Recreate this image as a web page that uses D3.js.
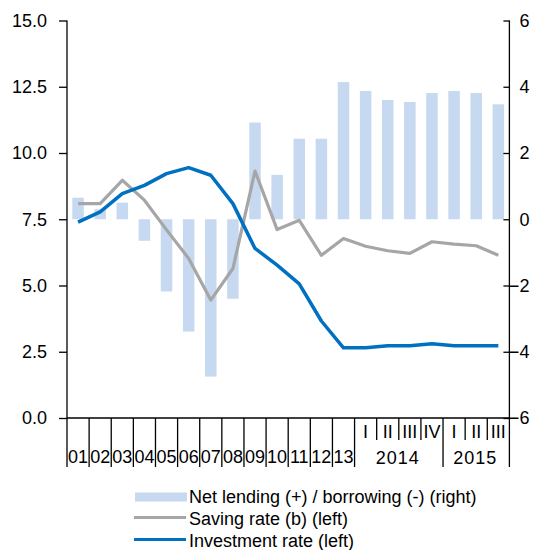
<!DOCTYPE html>
<html><head><meta charset="utf-8">
<script src="https://cdn.jsdelivr.net/npm/d3@7"></script>
<style>body{margin:0;background:#fff}svg{display:block}text{font-family:"Liberation Sans",Arial,sans-serif;fill:#000}</style>
</head><body><svg id="c" width="533" height="550"></svg>
<script>
const categories = ["01","02","03","04","05","06","07","08","09","10","11","12","13","I","II","III","IV","I","II","III"];
const yearGroups = [{label:"2014", start:13, end:17},{label:"2015", start:17, end:20}];
const netLending = [0.65,0.30,0.50,-0.65,-2.18,-3.39,-4.75,-2.40,2.92,1.34,2.43,2.43,4.14,3.87,3.60,3.54,3.81,3.87,3.81,3.47];
const savingRate = [8.09,8.09,8.97,8.22,7.10,6.02,4.45,5.64,9.32,7.11,7.46,6.14,6.77,6.48,6.31,6.21,6.65,6.56,6.50,6.14];
const investmentRate = [7.39,7.78,8.47,8.78,9.22,9.45,9.16,8.09,6.40,5.77,5.06,3.66,2.65,2.65,2.73,2.73,2.80,2.73,2.73,2.73];
const leftTicks = [0,2.5,5,7.5,10,12.5,15];
const rightTicks = [-6,-4,-2,0,2,4,6];
const legendLabels = ["Net lending (+) / borrowing (-) (right)","Saving rate (b) (left)","Investment rate (left)"];

const colBar="#C6D9F1", colSave="#A6A6A6", colInv="#0070C0";
const L=67, R=509.4, T=20.5, B=418;
const svg=d3.select("#c");
const x=d3.scaleBand().domain(d3.range(categories.length)).range([L,R]).paddingInner(0.48).paddingOuter(0.24);
const yL=d3.scaleLinear().domain([0,15]).range([B,T]);
const yR=d3.scaleLinear().domain([-6,6]).range([B,T]);
const step=x.step();
const cx=i=>x(i)+x.bandwidth()/2;

// bars
svg.append("g").selectAll("rect").data(netLending).join("rect")
  .attr("x",(d,i)=>x(i)).attr("width",x.bandwidth())
  .attr("y",d=>yR(Math.max(0,d))).attr("height",d=>Math.abs(yR(d)-yR(0)))
  .attr("fill",colBar);

// lines
const lineL=d3.line().x((d,i)=>cx(i)).y(d=>yL(d));
svg.append("path").datum(savingRate).attr("d",lineL).attr("fill","none").attr("stroke",colSave).attr("stroke-width",3.2).attr("stroke-linejoin","round");
svg.append("path").datum(investmentRate).attr("d",lineL).attr("fill","none").attr("stroke",colInv).attr("stroke-width",3.5).attr("stroke-linejoin","round");

// left axis
const gl=svg.append("g").attr("transform",`translate(${L},0)`).call(d3.axisLeft(yL).tickValues(leftTicks).tickFormat(d3.format(".1f")).tickSizeOuter(0).tickSize(8).tickPadding(12));
gl.select(".domain").remove();
gl.selectAll("line").attr("stroke","#000").attr("stroke-width",1.3);
gl.selectAll("text").attr("font-size",18).attr("font-family","Liberation Sans, Arial, sans-serif");
// right axis
const gr=svg.append("g").attr("transform",`translate(${R},0)`).call(d3.axisRight(yR).tickValues(rightTicks).tickSize(-6).tickSizeOuter(0).tickPadding(0));
gr.select(".domain").remove();
gr.selectAll("line").attr("stroke","#000").attr("stroke-width",1.3);
gr.selectAll("text").attr("font-size",18).attr("font-family","Liberation Sans, Arial, sans-serif").attr("text-anchor","end").attr("x",20);

// axis frame lines
const ax=svg.append("g").attr("stroke","#000").attr("stroke-width",1.3);
ax.append("line").attr("x1",L).attr("x2",L).attr("y1",T).attr("y2",467);
ax.append("line").attr("x1",R).attr("x2",R).attr("y1",T).attr("y2",467);
ax.append("line").attr("x1",L).attr("x2",R).attr("y1",B).attr("y2",B);

// category boundaries
for(let i=1;i<categories.length;i++){
  const bx=L+i*step;
  const full = i<=13 || yearGroups.some(g=>g.start===i);
  ax.append("line").attr("x1",bx).attr("x2",bx).attr("y1",B).attr("y2",full?467:440);
}
// labels
const gt=svg.append("g").attr("font-size",18).attr("text-anchor","middle");
categories.forEach((c,i)=>{
  if(i<13) gt.append("text").attr("x",cx(i)).attr("y",463).text(c);
  else gt.append("text").attr("x",cx(i)).attr("y",437.5).text(c);
});
yearGroups.forEach(g=>{
  gt.append("text").attr("x",(L+g.start*step+L+g.end*step)/2-1).attr("y",463.5).attr("letter-spacing",1).text(g.label);
});

// legend
const lg=svg.append("g");
lg.append("rect").attr("x",135).attr("y",492.5).attr("width",52).attr("height",9).attr("fill",colBar);
lg.append("line").attr("x1",134).attr("x2",186).attr("y1",517.5).attr("y2",517.5).attr("stroke",colSave).attr("stroke-width",3);
lg.append("line").attr("x1",134).attr("x2",186).attr("y1",539.5).attr("y2",539.5).attr("stroke",colInv).attr("stroke-width",3);
legendLabels.forEach((t,i)=>{
  lg.append("text").attr("x",189).attr("y",502.5+i*22).attr("font-size",18).text(t);
});
</script></body></html>
